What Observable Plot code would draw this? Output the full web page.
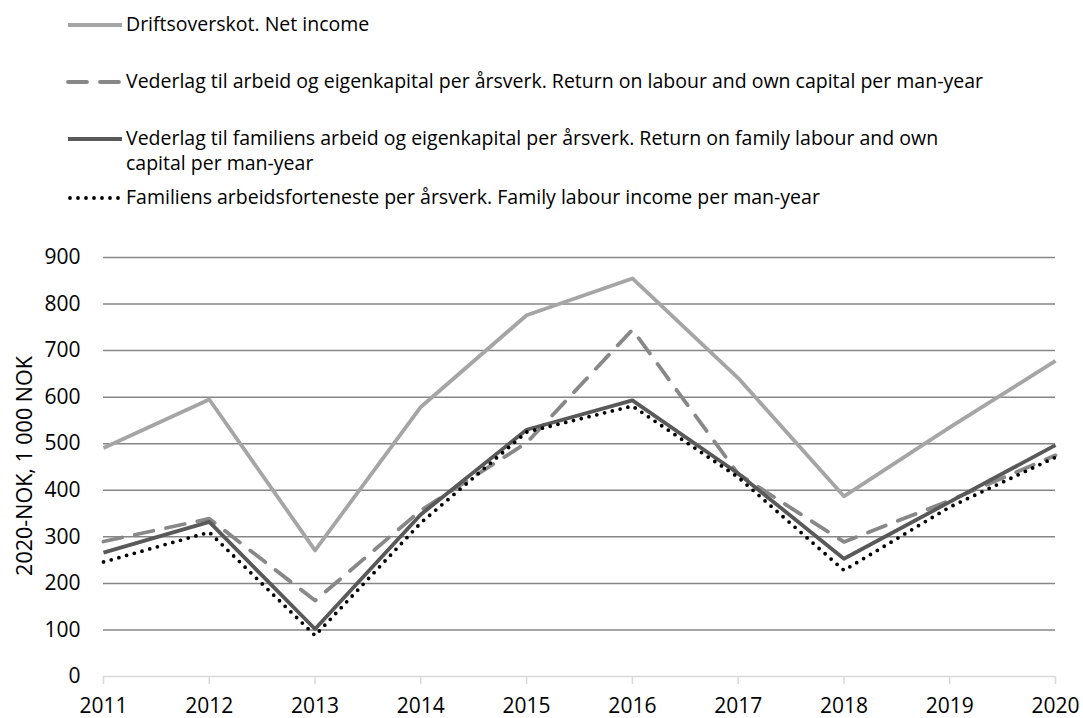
<!DOCTYPE html>
<html>
<head>
<meta charset="utf-8">
<script src="https://cdn.jsdelivr.net/npm/d3@7"></script>
<script src="https://cdn.jsdelivr.net/npm/@observablehq/plot@0.6"></script>
<style>
  html, body { margin: 0; padding: 0; background: #fff; }
  body { width: 1083px; height: 718px; overflow: hidden; font-family: "Open Sans", sans-serif; color: #000; }
  #legend { position: relative; width: 1083px; height: 235px; }
  .item svg { position: absolute; left: 66px; }
  .txt { position: absolute; left: 126px; white-space: nowrap; font-size: 19.5px; line-height: 22px; height: 22px; }
  #chart { position: relative; }
</style>
</head>
<body>
<div id="legend"></div>
<div id="chart"></div>
<script>
// ---- data ----
const years = [2011, 2012, 2013, 2014, 2015, 2016, 2017, 2018, 2019, 2020];
const netIncome = [491, 595, 271, 579, 776, 855, 641, 387, 535, 678];
const returnLabourCapital = [290, 339, 163, 357, 502, 745, 435, 289, 378, 475];
const returnFamilyLabourCapital = [266, 332, 102, 348, 530, 593, 436, 253, 375, 497];
const familyLabourIncome = [246, 310, 88, 330, 525, 581, 428, 228, 364, 471];
const seriesNames = [
  "Driftsoverskot. Net income",
  "Vederlag til arbeid og eigenkapital per årsverk. Return on labour and own capital per man-year",
  "Vederlag til familiens arbeid og eigenkapital per årsverk. Return on family labour and own capital per man-year",
  "Familiens arbeidsforteneste per årsverk. Family labour income per man-year"
];
const legendLines = [
  ["Driftsoverskot. Net income"],
  ["Vederlag til arbeid og eigenkapital per årsverk. Return on labour and own capital per man-year"],
  ["Vederlag til familiens arbeid og eigenkapital per årsverk. Return on family labour and own", "capital per man-year"],
  ["Familiens arbeidsforteneste per årsverk. Family labour income per man-year"]
];
const yTicks = [0, 100, 200, 300, 400, 500, 600, 700, 800, 900];
const yLabel = "2020-NOK, 1 000 NOK";

// ---- styles ----
const styles = [
  {stroke: "#a5a5a5", strokeWidth: 3.8, strokeDasharray: null, strokeLinecap: "butt"},
  {stroke: "#888888", strokeWidth: 3.8, strokeDasharray: "19,13", strokeLinecap: "round"},
  {stroke: "#595959", strokeWidth: 3.8, strokeDasharray: null, strokeLinecap: "butt"},
  {stroke: "#000000", strokeWidth: 3.8, strokeDasharray: "0,8", strokeLinecap: "round"}
];
const legendY = [24.5, 82, 139, 197.5];

// ---- legend ----
const legend = document.getElementById("legend");
legendLines.forEach((lines, i) => {
  const s = styles[i];
  const item = document.createElement("div");
  item.className = "item";
  const ns = "http://www.w3.org/2000/svg";
  const sw = document.createElementNS(ns, "svg");
  sw.setAttribute("width", 60);
  sw.setAttribute("height", 10);
  sw.style.top = (legendY[i] - 5) + "px";
  const ln = document.createElementNS(ns, "line");
  ln.setAttribute("x1", i === 3 ? 4 : 2);
  ln.setAttribute("x2", 56);
  ln.setAttribute("y1", 5);
  ln.setAttribute("y2", 5);
  ln.setAttribute("stroke", s.stroke);
  ln.setAttribute("stroke-width", s.strokeWidth);
  if (s.strokeDasharray) ln.setAttribute("stroke-dasharray", s.strokeDasharray);
  ln.setAttribute("stroke-linecap", s.strokeLinecap);
  sw.appendChild(ln);
  item.appendChild(sw);
  lines.forEach((line, k) => {
    const t = document.createElement("div");
    t.className = "txt";
    t.style.top = (legendY[i] - 12 + k * 25) + "px";
    t.textContent = line;
    item.appendChild(t);
  });
  legend.appendChild(item);
});

// ---- data table ----
const seriesValues = [netIncome, returnLabourCapital, returnFamilyLabourCapital, familyLabourIncome];
const table = seriesValues.map((vals, i) => years.map((yr, j) => ({year: yr, value: vals[j], series: seriesNames[i]})));

const plot = Plot.plot({
  width: 1083,
  height: 483,
  marginTop: 22,
  marginBottom: 42,
  marginLeft: 103,
  marginRight: 28,
  style: {fontFamily: "'Open Sans', sans-serif", fontSize: "21px", color: "#000", background: "#fff"},
  x: {domain: [2011, 2020], type: "linear"},
  y: {domain: [0, 900]},
  marks: [
    Plot.ruleY(yTicks.filter(d => d > 0), {stroke: "#868686", strokeWidth: 1.5}),
    Plot.ruleY([0], {stroke: "#d9d9d9", strokeWidth: 1.5}),
    Plot.axisX({ticks: years, tickFormat: d => String(d), tickSize: 8, tickPadding: 14, stroke: "#d9d9d9", strokeWidth: 1.5, fill: "#000", fontSize: 21, label: null}),
    Plot.axisY({ticks: yTicks, tickSize: 0, tickPadding: 23, fill: "#000", fontSize: 21, label: null}),
    ...table.map((rows, i) => Plot.line(rows, {
      x: "year", y: "value",
      stroke: styles[i].stroke,
      strokeWidth: styles[i].strokeWidth,
      strokeDasharray: styles[i].strokeDasharray,
      strokeLinecap: styles[i].strokeLinecap,
      strokeLinejoin: "round"
    }))
  ]
});
document.getElementById("chart").appendChild(plot);

// y-axis title as HTML text rotated
const lab = document.createElement("div");
lab.textContent = yLabel;
lab.style.cssText = "position:absolute; left:24px; top:" + (466 - 235) + "px; transform: translate(-50%,-50%) rotate(-90deg); white-space:nowrap; font-size:21.5px; line-height:24px; font-family: 'Open Sans', sans-serif;";
document.getElementById("chart").appendChild(lab);
</script>
</body>
</html>
